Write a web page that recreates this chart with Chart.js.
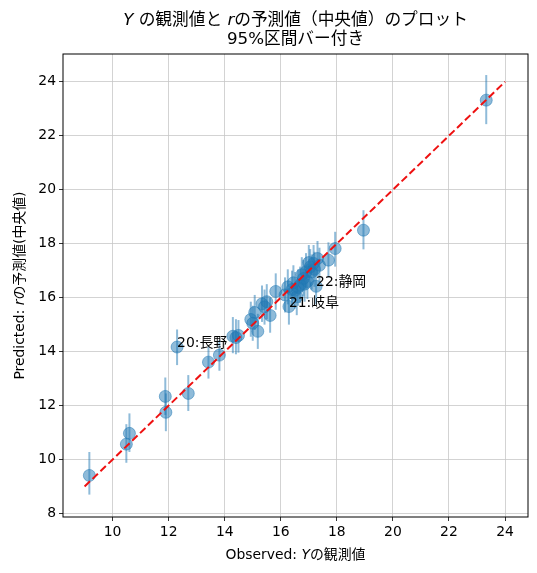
<!DOCTYPE html>
<html><head><meta charset="utf-8">
<script src="https://cdn.jsdelivr.net/npm/chart.js@4"></script>
<style>html,body{margin:0;padding:0;background:#fff}#wrap{width:537px;height:573px}</style>
</head><body><div id="wrap"><canvas id="c" width="537" height="573"></canvas></div>
<script>
// Observed Y values
const observed = [9.17,10.49,10.60,11.88,11.90,12.70,12.30,13.42,13.81,14.29,14.40,14.49,14.93,15.18,15.07,15.33,15.50,15.62,15.42,15.82,16.29,17.26,16.51,16.57,16.69,16.81,16.90,17.05,17.17,17.31,17.38,17.70,17.94,18.95,23.33,16.15,16.40,16.62,16.75,16.95,17.10,16.45,15.00,16.85,17.00,16.25,17.20];
// Predicted r median
const predicted = [9.41,10.57,10.97,12.34,11.75,12.45,14.17,13.61,13.87,14.57,14.52,14.60,15.19,14.75,15.45,15.77,15.85,15.34,15.66,16.23,15.67,16.42,16.27,16.03,16.47,16.71,16.96,17.14,17.27,17.45,17.20,17.39,17.82,18.50,23.32,16.10,16.30,16.38,16.85,16.60,16.95,16.55,15.05,16.50,17.30,16.40,17.05];
// 95% interval lower / upper
const lower = [8.70,9.88,10.28,11.65,11.05,11.80,13.50,13.00,13.29,13.94,13.90,13.96,14.55,14.10,14.80,15.10,15.20,14.70,15.00,15.55,15.00,15.75,15.60,15.35,15.80,16.05,16.30,16.45,16.60,16.80,16.55,16.75,17.15,17.79,22.43,15.45,15.65,15.70,16.20,15.95,16.30,15.90,14.40,15.85,16.65,15.75,16.40];
const upper = [10.28,11.31,11.71,13.04,12.45,13.13,14.82,14.18,14.43,15.28,15.20,15.17,15.85,15.40,16.10,16.45,16.50,16.00,16.30,16.90,16.35,17.05,16.95,16.70,17.15,17.40,17.65,17.80,17.95,18.10,17.85,18.05,18.44,19.24,24.25,16.75,17.00,17.05,17.50,17.25,17.60,17.20,15.70,17.15,17.95,17.05,17.70];
// Annotated points (index into arrays, label)
const labelIdx = [6, 20, 21];
const labelText = ["20:長野", "21:岐阜", "22:静岡"];
// Reference y = x line
const refLineX = [9, 24];
const xTicks = [10,12,14,16,18,20,22,24];
const yTicks = [8,10,12,14,16,18,20,22,24];
// Text runs: [text, italic]
const titleLine1 = [["Y", true], [" の観測値と ", false], ["r", true], ["の予測値（中央値）のプロット", false]];
const titleLine2 = [["95%区間バー付き", false]];
const xTitle = [["Observed: ", false], ["Y", true], ["の観測値", false]];
const yTitle = [["Predicted: ", false], ["r", true], ["の予測値(中央値)", false]];

const FONT = "'DejaVu Sans', 'Noto Sans CJK JP', sans-serif";
const blue = 'rgba(31,119,180,0.5)';

function drawRuns(ctx, runs, cx, cy, size) {
  const fonts = runs.map(r => (r[1] ? 'italic ' : '') + size + 'px ' + FONT);
  let total = 0; const widths = [];
  runs.forEach((r, i) => { ctx.font = fonts[i]; const w = ctx.measureText(r[0]).width; widths.push(w); total += w; });
  let x = cx - total / 2;
  ctx.textAlign = 'left'; ctx.textBaseline = 'middle';
  runs.forEach((r, i) => { ctx.font = fonts[i]; ctx.fillText(r[0], x, cy); x += widths[i]; });
}

const extras = {
  id: 'extras',
  beforeDatasetsDraw(chart) {
    const {ctx, scales:{x, y}} = chart;
    ctx.save();
    ctx.strokeStyle = blue; ctx.lineWidth = 2;
    for (let i = 0; i < observed.length; i++) {
      const px = x.getPixelForValue(observed[i]);
      ctx.beginPath();
      ctx.moveTo(px, y.getPixelForValue(lower[i]));
      ctx.lineTo(px, y.getPixelForValue(upper[i]));
      ctx.stroke();
    }
    ctx.restore();
  },
  afterDatasetsDraw(chart) {
    const {ctx, scales:{x, y}, chartArea:a} = chart;
    ctx.save();
    ctx.fillStyle = '#000';
    ctx.font = "13.9px " + FONT;
    ctx.textAlign = 'left'; ctx.textBaseline = 'alphabetic';
    labelIdx.forEach((k, j) => {
      ctx.fillText(labelText[j], x.getPixelForValue(observed[k]), y.getPixelForValue(predicted[k]));
    });
    ctx.strokeStyle = '#000'; ctx.lineWidth = 1;
    ctx.strokeRect(a.left, a.top, a.right - a.left, a.bottom - a.top);
    const cx = (a.left + a.right) / 2, cy = (a.top + a.bottom) / 2;
    drawRuns(ctx, titleLine1, cx, 21, 16.7);
    drawRuns(ctx, titleLine2, cx, 40, 16.7);
    drawRuns(ctx, xTitle, cx, 555, 13.9);
    ctx.save();
    ctx.translate(20, cy); ctx.rotate(-Math.PI / 2);
    drawRuns(ctx, yTitle, 0, 0, 13.9);
    ctx.restore();
    ctx.restore();
  }
};

new Chart(document.getElementById('c'), {
  type: 'scatter',
  data: {
    datasets: [
      {
        type: 'line',
        data: refLineX.map(v => ({x: v, y: v})),
        borderColor: '#ee1111', borderWidth: 2, borderDash: [7.5, 3.5],
        pointRadius: 0, fill: false, order: 0
      },
      {
        data: observed.map((v, i) => ({x: v, y: predicted[i]})),
        backgroundColor: blue, borderColor: blue, borderWidth: 1,
        pointRadius: 6, order: 1
      }
    ]
  },
  options: {
    responsive: false, animation: false, devicePixelRatio: 1,
    layout: {padding: {left: 0, right: 9, top: 54, bottom: 0}},
    plugins: {legend: {display: false}, tooltip: {enabled: false}, title: {display: false}},
    scales: {
      x: {
        type: 'linear', min: 8.23, max: 24.82,
        afterBuildTicks: s => { s.ticks = xTicks.map(v => ({value: v})); },
        afterFit: s => { s.height = 56; },
        grid: {color: '#c8c8c8', lineWidth: 0.8, tickColor: '#000', tickLength: 4, drawTicks: true},
        border: {display: false},
        ticks: {color: '#000', font: {family: FONT, size: 13.9}, padding: 3, maxRotation: 0}
      },
      y: {
        type: 'linear', min: 7.87, max: 25.03,
        afterBuildTicks: s => { s.ticks = yTicks.map(v => ({value: v})); },
        afterFit: s => { s.width = 63; },
        grid: {color: '#c8c8c8', lineWidth: 0.8, tickColor: '#000', tickLength: 4, drawTicks: true},
        border: {display: false},
        ticks: {color: '#000', font: {family: FONT, size: 13.9}, padding: 3}
      }
    }
  },
  plugins: [extras]
});
</script></body></html>
